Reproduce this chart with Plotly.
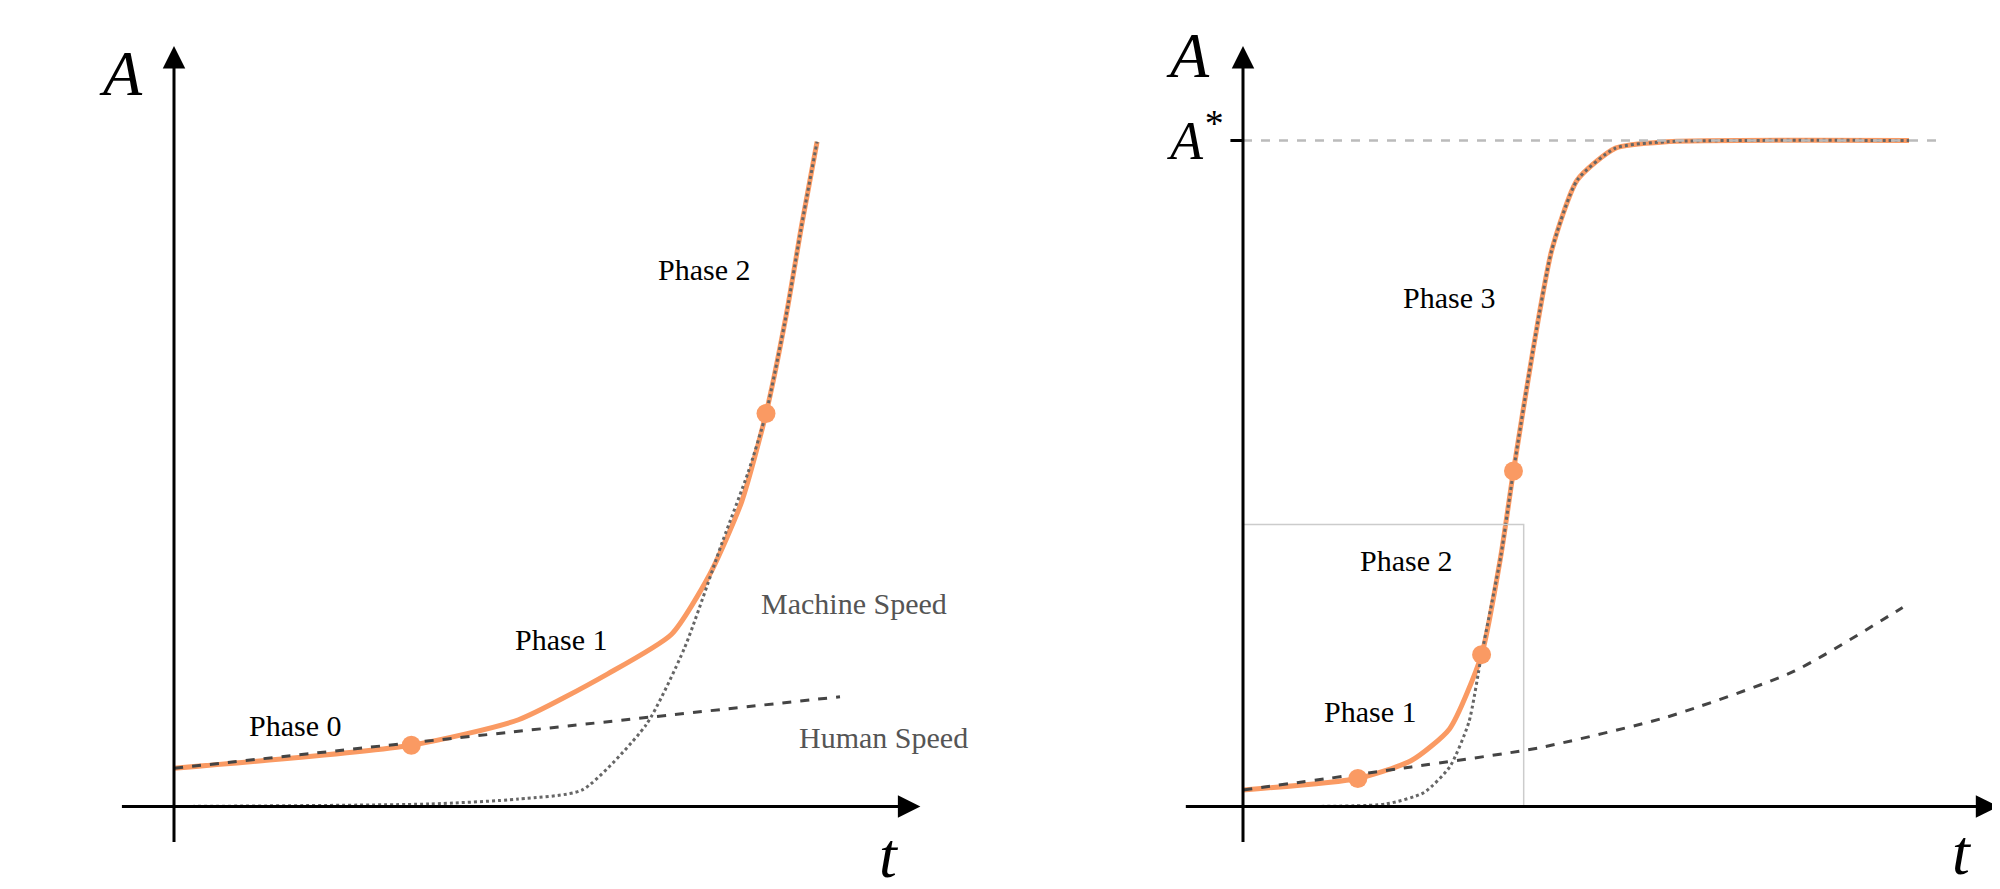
import plotly.graph_objects as go
from plotly.subplots import make_subplots

# left panel (t, A)
left_t_orange = [0, 3.207, 4.655, 5.862, 6.724, 7.241, 7.672, 8.0, 8.276, 8.483, 8.690]
left_a_orange = [0.517, 0.828, 1.172, 1.793, 2.328, 3.138, 4.121, 5.310, 6.655, 7.862, 8.983]
left_t_machine = [0, 3.448, 4.655, 5.517, 6.379, 6.897, 7.414, 7.759, 8.0, 8.276, 8.483, 8.690]
left_a_machine = [0, 0.034, 0.10, 0.224, 1.103, 2.138, 3.586, 4.517, 5.310, 6.655, 7.862, 8.983]
left_t_human = [0, 4.5, 9.0]
left_a_human = [0.517, 1.0, 1.483]
left_t_dots = [3.207, 8.0]
left_a_dots = [0.828, 5.310]

# right panel
right_t_orange = [0, 1.552, 2.276, 2.793, 3.224, 3.483, 3.655, 3.914, 4.172, 4.517, 5.034, 5.724, 9.0]
right_a_orange = [0.224, 0.379, 0.621, 1.052, 2.052, 3.379, 4.534, 6.138, 7.517, 8.466, 8.897, 8.983, 9.0]
right_t_machine = [0, 1.931, 2.448, 2.793, 3.052, 3.224, 3.483, 3.655, 3.914, 4.172, 4.517, 5.034, 5.724, 9.0]
right_a_machine = [0, 0.034, 0.19, 0.534, 1.138, 2.052, 3.379, 4.534, 6.138, 7.517, 8.466, 8.897, 8.983, 9.0]
right_t_human = [0, 2.276, 4.0, 5.724, 7.448, 8.914]
right_a_human = [0.224, 0.534, 0.793, 1.207, 1.828, 2.690]
right_t_dots = [1.552, 3.224, 3.655]
right_a_dots = [0.379, 2.052, 4.534]
a_star = 9.0
box_t, box_a = 3.793, 3.81

orange = "#fa9a63"
font = "Liberation Serif"
ppu = 74  # pixels per data unit

fig = make_subplots(rows=1, cols=2)

def add_panel(col, t_or, a_or, t_m, a_m, t_h, a_h, t_d, a_d):
    fig.add_trace(go.Scatter(x=t_or, y=a_or, mode="lines", line=dict(color=orange, width=5, shape="spline", smoothing=0.6)), row=1, col=col)
    fig.add_trace(go.Scatter(x=t_h, y=a_h, mode="lines", line=dict(color="#444", width=3, dash="dash", shape="spline", smoothing=0.6)), row=1, col=col)
    fig.add_trace(go.Scatter(x=t_m, y=a_m, mode="lines", line=dict(color="#666", width=3, dash="dot", shape="spline", smoothing=0.6)), row=1, col=col)
    fig.add_trace(go.Scatter(x=t_d, y=a_d, mode="markers", marker=dict(color=orange, size=19)), row=1, col=col)

add_panel(1, left_t_orange, left_a_orange, left_t_machine, left_a_machine, left_t_human, left_a_human, left_t_dots, left_a_dots)
add_panel(2, right_t_orange, right_a_orange, right_t_machine, right_a_machine, right_t_human, right_a_human, right_t_dots, right_a_dots)

# A* reference line and box
fig.add_trace(go.Scatter(x=[0, 9.43], y=[a_star, a_star], mode="lines", line=dict(color="#bbb", width=2.5, dash="dash")), row=1, col=2)
fig.add_trace(go.Scatter(x=[0, box_t, box_t], y=[box_a, box_a, 0], mode="lines", line=dict(color="#ccc", width=1.5)), row=1, col=2)
fig.add_trace(go.Scatter(x=[-0.17, 0], y=[a_star, a_star], mode="lines", line=dict(color="black", width=3)), row=1, col=2)

# axes as arrows
for xr, yr, xs, xt in [("x", "y", -0.724, 10.086), ("x2", "y2", -0.793, 10.207)]:
    fig.add_annotation(x=xt, y=0, ax=xs, ay=0, xref=xr, yref=yr, axref=xr, ayref=yr, arrowcolor="black",
                       showarrow=True, arrowhead=2, arrowsize=1.5, arrowwidth=3, text="")
    fig.add_annotation(x=0, y=10.276, ax=0, ay=-0.5, xref=xr, yref=yr, axref=xr, ayref=yr, arrowcolor="black",
                       showarrow=True, arrowhead=2, arrowsize=1.5, arrowwidth=3, text="")

def label(xr, yr, x, y, text, size=30, color="black", italic=False):
    if italic:
        text = "<i>" + text + "</i>"
    fig.add_annotation(x=x, y=y, xref=xr, yref=yr, text=text, showarrow=False,
                       font=dict(family=font, size=size, color=color))

label("x", "y", 1.638, 1.10, "Phase 0")
label("x", "y", 5.241, 2.26, "Phase 1")
label("x", "y", 7.172, 7.26, "Phase 2")
label("x", "y", 9.190, 2.74, "Machine Speed", color="#555")
label("x", "y", 9.586, 0.93, "Human Speed", color="#555")
label("x", "y", -0.72, 9.9, "A", size=64, italic=True)
label("x", "y", 9.66, -0.66, "t", size=64, italic=True)

label("x2", "y2", 1.724, 1.28, "Phase 1")
label("x2", "y2", 2.207, 3.33, "Phase 2")
label("x2", "y2", 2.793, 6.88, "Phase 3")
label("x2", "y2", -0.66, 9.05, "A<sup>*</sup>", size=54, italic=True)
label("x2", "y2", -0.74, 10.15, "A", size=64, italic=True)
label("x2", "y2", 9.72, -0.62, "t", size=64, italic=True)

fig.update_xaxes(visible=False)
fig.update_yaxes(visible=False)
fig.update_layout(
    width=2000, height=889, showlegend=False,
    margin=dict(l=0, r=0, t=0, b=0),
    plot_bgcolor="white", paper_bgcolor="white",
    xaxis=dict(domain=[0, 0.45], range=[-166 / ppu, 734 / ppu]),
    xaxis2=dict(domain=[0.45, 1], range=[-335 / ppu, 765 / ppu]),
    yaxis=dict(range=[-90.5 / ppu, 798.5 / ppu]),
    yaxis2=dict(range=[-90.5 / ppu, 798.5 / ppu]),
)

fig.write_html("out.html")
